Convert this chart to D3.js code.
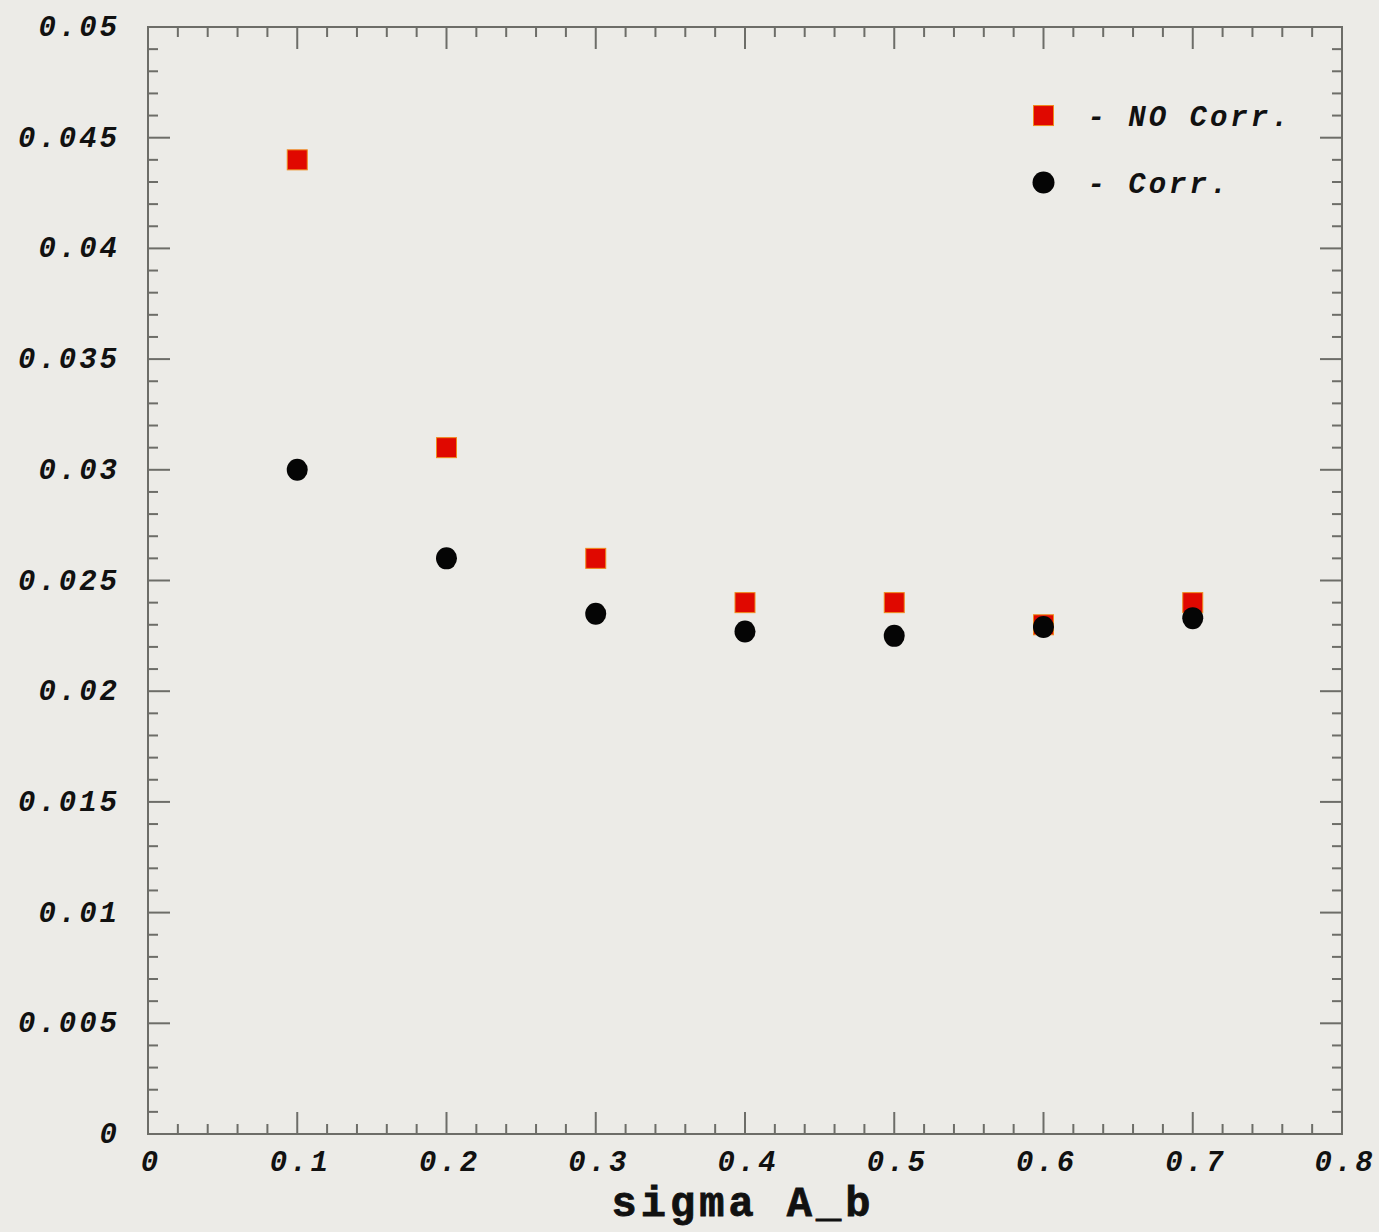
<!DOCTYPE html>
<html>
<head>
<meta charset="utf-8">
<script src="https://cdn.jsdelivr.net/npm/d3@7"></script>
<style>
  body { margin: 0; background: #ecebe7; }
  svg { display: block; }
  .tick-label { font-family: "Liberation Mono", "DejaVu Sans Mono", monospace; font-weight: bold; font-style: italic; font-size: 29px; fill: #111; letter-spacing: 3px; }
  .axis-title { font-family: "Liberation Mono", "DejaVu Sans Mono", monospace; font-weight: bold; font-size: 42px; fill: #111; letter-spacing: 4px; stroke: #111; stroke-width: 0.8px; }
</style>
</head>
<body>
<svg id="chart"></svg>
<script>
const sigmaAb = [0.1, 0.2, 0.3, 0.4, 0.5, 0.6, 0.7]
const noCorr = [0.0440, 0.0310, 0.0260, 0.0240, 0.0240, 0.0230, 0.0240]
const corr = [0.0300, 0.0260, 0.0235, 0.0227, 0.0225, 0.0229, 0.0233]
const xTicks = [0, 0.1, 0.2, 0.3, 0.4, 0.5, 0.6, 0.7, 0.8]
const yTicks = [0, 0.005, 0.01, 0.015, 0.02, 0.025, 0.03, 0.035, 0.04, 0.045, 0.05]
const legendItems = [
  { label: '- NO Corr.', shape: 'square' },
  { label: '- Corr.', shape: 'circle' }
]

const width = 1379, height = 1232
const MARGIN = { top: 27, right: 37, bottom: 98, left: 148 }
const boundedWidth = width - MARGIN.left - MARGIN.right
const boundedHeight = height - MARGIN.top - MARGIN.bottom

const $svg = d3.select('#chart').attr('width', width).attr('height', height)
$svg.append('rect').attr('width', width).attr('height', height).attr('fill', '#ecebe7')

const xScale = d3.scaleLinear().domain([0, 0.8]).range([0, boundedWidth])
const yScale = d3.scaleLinear().domain([0, 0.05]).range([boundedHeight, 0])

const $g = $svg.append('g').attr('transform', `translate(${MARGIN.left}, ${MARGIN.top})`)

// frame
$g.append('rect')
  .attr('width', boundedWidth).attr('height', boundedHeight)
  .attr('fill', 'none').attr('stroke', '#6d6d68').attr('stroke-width', 2)

const tickColor = '#6d6d68'
const fmt = d => d === 0 ? '0' : String(+d.toFixed(3))

// minor + major ticks, pointing inward on all four sides
const xMinor = d3.range(0, 0.8001, 0.02)
const yMinor = d3.range(0, 0.05001, 0.001)
const isMajorX = v => Math.abs(v * 10 - Math.round(v * 10)) < 1e-6
const isMajorY = v => Math.abs(v * 200 - Math.round(v * 200)) < 1e-6

xMinor.forEach(v => {
  const len = isMajorX(v) ? 22 : 10
  const x = xScale(v)
  $g.append('line').attr('x1', x).attr('x2', x).attr('y1', boundedHeight).attr('y2', boundedHeight - len)
    .attr('stroke', tickColor).attr('stroke-width', 2)
  $g.append('line').attr('x1', x).attr('x2', x).attr('y1', 0).attr('y2', len)
    .attr('stroke', tickColor).attr('stroke-width', 2)
})
yMinor.forEach(v => {
  const len = isMajorY(v) ? 22 : 10
  const y = yScale(v)
  $g.append('line').attr('x1', 0).attr('x2', len).attr('y1', y).attr('y2', y)
    .attr('stroke', tickColor).attr('stroke-width', 2)
  $g.append('line').attr('x1', boundedWidth).attr('x2', boundedWidth - len).attr('y1', y).attr('y2', y)
    .attr('stroke', tickColor).attr('stroke-width', 2)
})

// tick labels
$g.selectAll('.x-label').data(xTicks).join('text')
  .attr('class', 'tick-label')
  .attr('x', d => xScale(d) + 3)
  .attr('y', boundedHeight + 37)
  .attr('text-anchor', 'middle')
  .text(fmt)

$g.selectAll('.y-label').data(yTicks).join('text')
  .attr('class', 'tick-label')
  .attr('x', -28)
  .attr('y', d => yScale(d) + 9)
  .attr('text-anchor', 'end')
  .text(fmt)

// axis title
$svg.append('text')
  .attr('class', 'axis-title')
  .attr('x', MARGIN.left + xScale(0.4) - 2)
  .attr('y', 1216)
  .attr('text-anchor', 'middle')
  .text('sigma A_b')

// points
const sq = 20
$g.selectAll('.no-corr').data(sigmaAb).join('rect')
  .attr('class', 'no-corr')
  .attr('x', (d) => xScale(d) - sq / 2)
  .attr('y', (d, i) => yScale(noCorr[i]) - sq / 2)
  .attr('width', sq).attr('height', sq)
  .attr('fill', '#e00800').attr('stroke', '#f08a1c').attr('stroke-width', 1)

$g.selectAll('.corr').data(sigmaAb).join('ellipse')
  .attr('class', 'corr')
  .attr('cx', d => xScale(d))
  .attr('cy', (d, i) => yScale(corr[i]))
  .attr('rx', 10.5).attr('ry', 11)
  .attr('fill', '#050505')

// legend
const $legend = $g.append('g').attr('transform', `translate(${xScale(0.6)}, ${yScale(0.046)})`)
legendItems.forEach((item, i) => {
  const y = i * 67
  if (item.shape === 'square') {
    $legend.append('rect').attr('x', -sq / 2).attr('y', y - sq / 2).attr('width', sq).attr('height', sq)
      .attr('fill', '#e00800').attr('stroke', '#f08a1c').attr('stroke-width', 1)
  } else {
    $legend.append('circle').attr('cx', 0).attr('cy', y).attr('r', 11).attr('fill', '#050505')
  }
  $legend.append('text')
    .attr('class', 'tick-label')
    .attr('x', 44).attr('y', y + 10)
    .text(item.label)
})
</script>
</body>
</html>
